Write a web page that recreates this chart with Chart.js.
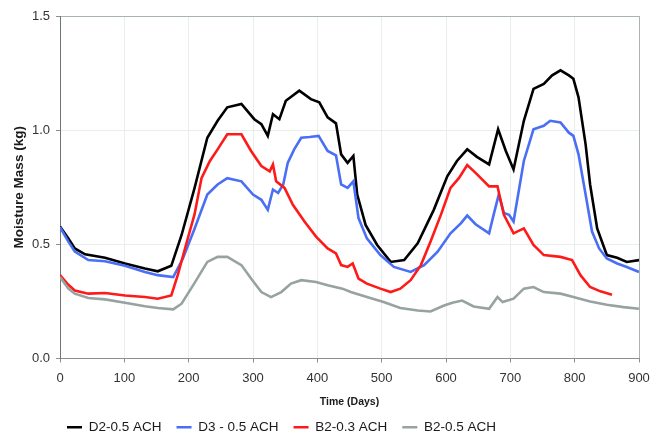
<!DOCTYPE html>
<html>
<head>
<meta charset="utf-8">
<script src="https://cdn.jsdelivr.net/npm/chart.js@4"></script>
<style>
  html, body { margin: 0; padding: 0; background: #fff; }
  #wrap { width: 662px; height: 438px; position: relative; }
</style>
</head>
<body>
<div id="wrap"><canvas id="moistChart"></canvas></div>
<script>
// Moisture mass (kg) over time (days) for each case
const d2Days = [0, 13, 23, 39, 70, 101, 132, 152, 173, 189, 209, 229, 245, 260, 282, 302, 313, 323, 331, 341, 351, 372, 390, 403, 416, 429, 437, 447, 456, 462, 475, 493, 514, 535, 556, 581, 602, 617, 633, 648, 667, 681, 693, 705, 721, 736, 752, 765, 778, 791, 798, 806, 817, 824, 835, 850, 866, 881, 900];
const d2Mass = [0.578, 0.526, 0.482, 0.456, 0.441, 0.416, 0.394, 0.382, 0.406, 0.541, 0.745, 0.967, 1.041, 1.10, 1.115, 1.048, 1.026, 0.975, 1.07, 1.048, 1.129, 1.173, 1.136, 1.122, 1.056, 1.03, 0.894, 0.857, 0.887, 0.718, 0.585, 0.497, 0.423, 0.431, 0.504, 0.651, 0.798, 0.865, 0.916, 0.883, 0.85, 1.004, 0.909, 0.828, 1.041, 1.181, 1.203, 1.24, 1.262, 1.24, 1.225, 1.144, 0.938, 0.762, 0.57, 0.453, 0.441, 0.423, 0.431];

const d3Days = [0, 13, 23, 44, 70, 101, 132, 152, 176, 191, 209, 229, 245, 260, 282, 300, 313, 323, 331, 339, 347, 354, 364, 375, 388, 402, 416, 429, 437, 447, 456, 464, 477, 498, 519, 545, 566, 587, 607, 623, 633, 646, 667, 674, 682, 690, 698, 705, 721, 736, 752, 762, 778, 791, 798, 806, 817, 827, 838, 850, 866, 881, 900];
const d3Mass = [0.575, 0.512, 0.468, 0.431, 0.426, 0.406, 0.379, 0.365, 0.357, 0.438, 0.567, 0.718, 0.762, 0.79, 0.776, 0.718, 0.695, 0.651, 0.74, 0.725, 0.762, 0.857, 0.916, 0.967, 0.97, 0.975, 0.909, 0.89, 0.762, 0.747, 0.776, 0.615, 0.526, 0.453, 0.401, 0.379, 0.409, 0.468, 0.548, 0.592, 0.626, 0.588, 0.548, 0.629, 0.718, 0.637, 0.629, 0.60, 0.865, 1.004, 1.019, 1.041, 1.034, 0.989, 0.975, 0.894, 0.718, 0.556, 0.482, 0.438, 0.416, 0.401, 0.379];

const b203Days = [0, 13, 23, 44, 70, 101, 132, 152, 173, 183, 199, 209, 220, 233, 245, 260, 282, 297, 313, 326, 331, 336, 349, 362, 380, 398, 416, 429, 437, 447, 455, 464, 477, 498, 514, 529, 545, 561, 576, 592, 607, 620, 633, 646, 667, 680, 690, 705, 721, 736, 752, 778, 796, 809, 824, 840, 858];
const b203Mass = [0.365, 0.323, 0.298, 0.284, 0.287, 0.276, 0.269, 0.262, 0.276, 0.365, 0.53, 0.63, 0.79, 0.865, 0.916, 0.982, 0.982, 0.909, 0.843, 0.82, 0.85, 0.776, 0.747, 0.673, 0.60, 0.534, 0.482, 0.46, 0.409, 0.401, 0.416, 0.35, 0.328, 0.306, 0.291, 0.306, 0.343, 0.409, 0.512, 0.629, 0.747, 0.79, 0.847, 0.813, 0.754, 0.754, 0.629, 0.548, 0.57, 0.497, 0.453, 0.445, 0.431, 0.365, 0.313, 0.294, 0.279];

const b205Days = [0, 13, 23, 44, 70, 101, 132, 152, 176, 189, 209, 229, 245, 260, 282, 297, 313, 328, 344, 359, 375, 398, 416, 439, 452, 477, 503, 529, 556, 576, 597, 610, 625, 643, 667, 680, 688, 705, 721, 736, 752, 778, 798, 824, 850, 876, 900];
const b205Mass = [0.357, 0.306, 0.284, 0.265, 0.259, 0.244, 0.229, 0.221, 0.215, 0.24, 0.33, 0.423, 0.445, 0.445, 0.409, 0.35, 0.291, 0.269, 0.291, 0.328, 0.343, 0.335, 0.321, 0.306, 0.291, 0.269, 0.247, 0.221, 0.21, 0.206, 0.232, 0.244, 0.254, 0.228, 0.218, 0.269, 0.247, 0.262, 0.306, 0.313, 0.291, 0.284, 0.269, 0.25, 0.235, 0.225, 0.218];

const seriesLabels = ["D2-0.5 ACH", "D3 - 0.5 ACH", "B2-0.3 ACH", "B2-0.5 ACH"];
const seriesColors = ["#000000", "#4a6ef5", "#ff1a1a", "#97a3a1"];

const xTicks = { min: 0, max: 900, step: 100 };
const yTicks = { min: 0, max: 1.5, step: 0.5 };

const toPoints = (days, mass) => days.map((d, i) => ({ x: d, y: mass[i] }));
const allSeries = [
  toPoints(d2Days, d2Mass),
  toPoints(d3Days, d3Mass),
  toPoints(b203Days, b203Mass),
  toPoints(b205Days, b205Mass)
];

const FONT = "'Liberation Sans', Arial, sans-serif";
const LEGEND_START = 67;   // x where the first legend entry begins
const LEGEND_PAD = 15;

// legend sits left of centre, start it at a fixed x
const legendOffset = {
  id: "legendOffset",
  afterLayout(chart) {
    if (chart.legend) chart.legend.left = LEGEND_START - LEGEND_PAD;
  }
};

const datasets = allSeries.map((pts, i) => ({
  label: seriesLabels[i],
  data: pts,
  borderColor: seriesColors[i],
  backgroundColor: seriesColors[i],
  borderWidth: 2.6,
  pointRadius: 0,
  tension: 0,
  fill: false,
  order: seriesLabels.length - i
}));

new Chart(document.getElementById("moistChart"), {
  type: "line",
  data: { datasets },
  plugins: [legendOffset],
  options: {
    responsive: true,
    maintainAspectRatio: false,
    animation: false,
    layout: { padding: { top: 16, right: 23, left: 0, bottom: -6 } },
    plugins: {
      tooltip: { enabled: false },
      legend: {
        position: "bottom",
        align: "start",
        labels: {
          usePointStyle: true,
          pointStyle: "line",
          pointStyleWidth: 15,
          padding: LEGEND_PAD,
          color: "#1a1a1a",
          font: { family: FONT, size: 13.5 },
          sort: (a, b) => a.datasetIndex - b.datasetIndex
        }
      }
    },
    scales: {
      x: {
        type: "linear",
        min: xTicks.min,
        max: xTicks.max,
        afterFit: s => { s.height = 47; },
        ticks: {
          stepSize: xTicks.step,
          color: "#333",
          padding: 8,
          font: { family: FONT, size: 13 }
        },
        grid: {
          color: c => (c.tick && c.tick.value === xTicks.max) ? "#a9b3b3" : "#e9eded",
          tickColor: "#8a8f8f",
          tickLength: 4,
          lineWidth: 1
        },
        border: { color: "#8a8f8f", width: 1 },
        title: {
          display: true,
          text: "Time (Days)",
          color: "#1a1a1a",
          font: { family: FONT, size: 10.5, weight: "bold" },
          padding: { top: 0, bottom: -3 }
        }
      },
      y: {
        min: yTicks.min,
        max: yTicks.max,
        afterFit: s => { s.width = 60; },
        ticks: {
          stepSize: yTicks.step,
          color: "#333",
          padding: 6,
          font: { family: FONT, size: 13 },
          callback: v => v.toFixed(1)
        },
        grid: {
          color: c => (c.tick && c.tick.value === yTicks.max) ? "#a9b3b3" : "#e9eded",
          tickColor: "#8a8f8f",
          tickLength: 4,
          lineWidth: 1
        },
        border: { color: "#6f7575", width: 1 },
        title: {
          display: true,
          text: "Moisture Mass (kg)",
          color: "#1a1a1a",
          font: { family: FONT, size: 13.5, weight: "bold" },
          padding: { top: 11, bottom: 0 }
        }
      }
    }
  }
});
</script>
</body>
</html>
